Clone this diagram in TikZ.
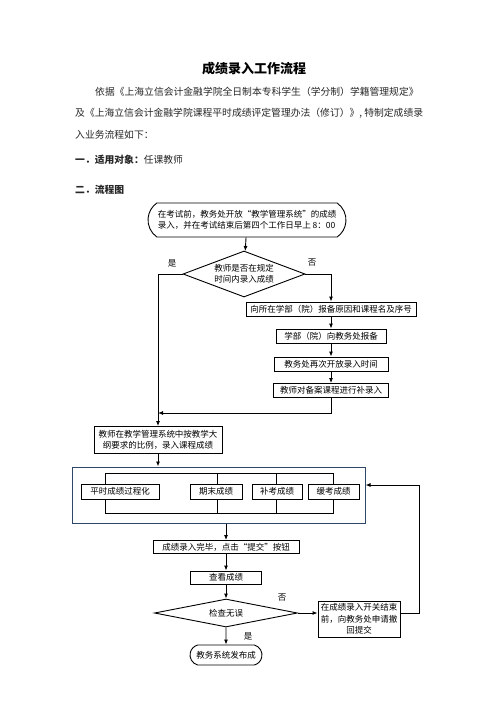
\documentclass[tikz,border=0pt]{standalone}
\usepackage{xcolor}
\usepackage{fontspec}
\setmainfont{Noto Sans CJK SC}
\usepackage{tikz}
\usetikzlibrary{arrows.meta,shapes.geometric,shapes.misc}
\definecolor{frameblue}{HTML}{2E4668}
\newcommand\chartfont{\fontsize{8.5pt}{11pt}\selectfont}
\newcommand\bodyfont{\fontsize{9.8pt}{12pt}\selectfont}

\begin{document}
\begin{tikzpicture}[
  x=1pt,y=-1pt,
  box/.style={draw,line width=0.9pt,inner sep=1pt,minimum height=14pt,align=center,font=\chartfont},
  term/.style={draw,line width=0.9pt,rounded rectangle,rounded rectangle arc length=110,inner xsep=1pt,font=\chartfont},
  ask/.style={draw,line width=0.9pt,diamond,inner sep=0pt,align=center,font=\chartfont},
  lbl/.style={font=\chartfont,inner sep=0pt},
  txt/.style={font=\bodyfont,text=black!85,anchor=west,inner sep=0pt},
  link/.style={line width=0.9pt},
  arr/.style={-{Latex[length=5pt,width=4pt]},line width=0.9pt}
]
\useasboundingbox (0,0) rectangle (496,702);

% heading and text
\node[font=\fontsize{13pt}{15pt}\selectfont\bfseries,inner sep=0pt] (title) at (254,69) {成绩录入工作流程};
\node[txt] (para1) at (95,92) {依据《上海立信会计金融学院全日制本专科学生（学分制）学籍管理规定》};
\node[txt] (para2) at (75,113) {及《上海立信会计金融学院课程平时成绩评定管理办法（修订）》, 特制定成绩录};
\node[txt] (para3) at (75,135) {入业务流程如下：};
\node[txt] (sec1) at (75,160) {\bfseries 一．适用对象：\mdseries 任课教师};
\node[txt] (sec2) at (75,190) {\bfseries 二．流程图};

% flow chart
\node[term,minimum width=200pt,minimum height=34pt,align=left] (open) at (247,220)
  {在考试前，教务处开放“教学管理系统”的成绩\\录入，并在考试结束后第四个工作日早上 8：00};
\node[ask,minimum width=122pt,minimum height=46pt,shape aspect=2.65] (intime) at (244,274)
  {教师是否在规定\\时间内录入成绩};
\node[box,minimum width=170pt] (report) at (331,309) {向所在学部（院）报备原因和课程名及序号};
\node[box,minimum width=110pt] (dept) at (331,336) {学部（院）向教务处报备};
\node[box,minimum width=114pt] (reopen) at (331,364) {教务处再次开放录入时间};
\node[box,minimum width=115pt] (supp) at (331,390.5) {教师对备案课程进行补录入};
\coordinate (join) at (158,413);
\node[box,minimum width=128pt,minimum height=27pt] (enter) at (158,440)
  {教师在教学管理系统中按教学大\\纲要求的比例，录入课程成绩};

\node[draw=frameblue,line width=1pt,minimum width=293pt,minimum height=56pt] (grp) at (218.5,495) {};
\node[box,minimum width=78pt,minimum height=15pt] (usual) at (120,491.5) {平时成绩过程化};
\node[box,minimum width=52pt,minimum height=15pt] (final) at (216,491.5) {期末成绩};
\node[box,minimum width=50pt,minimum height=15pt] (makeup) at (277,491.5) {补考成绩};
\node[box,minimum width=51pt,minimum height=15pt] (defer) at (333.5,491.5) {缓考成绩};
\draw[link] (105,484) -- (105,473) -- (333,473) -- (333,484);
\draw[link] (105,499) -- (105,513) -- (333,513) -- (333,499);
\foreach \x in {217,276} {
  \draw[link] (\x,473) -- (\x,484) (\x,499) -- (\x,513);
}

\node[box,minimum width=146pt,minimum height=13pt] (done) at (226,547) {成绩录入完毕，点击“提交”按钮};
\node[box,minimum width=71pt,minimum height=13pt] (view) at (226,577.5) {查看成绩};
\node[ask,minimum width=143pt,minimum height=28pt,shape aspect=5.1] (check) at (226,613) {检查无误};
\node[box,minimum width=82pt,minimum height=36pt,font=\fontsize{8.5pt}{11.5pt}\selectfont] (withdraw) at (359,619)
  {在成绩录入开关结束\\前，向教务处申请撤\\回提交};
\node[term,minimum width=74pt,minimum height=20pt,rounded rectangle arc length=150] (publish) at (226,655) {教务系统发布成};
\coordinate (back) at (419,485);

% labels
\node[lbl] (yes1) at (172,263) {是};
\node[lbl] (no1) at (312,263) {否};
\node[lbl] (no2) at (282,598) {否};
\node[lbl] (yes2) at (248,636) {是};

% connectors
\draw[arr] (open) -- (intime);
\draw[arr] (intime.west) -| (enter.north);
\draw[arr] (intime.east) -| (report.north);
\draw[arr] (report) -- (dept);
\draw[arr] (dept) -- (reopen);
\draw[arr] (reopen) -- (supp);
\draw[arr] (supp.south) |- (join);
\draw[arr] (enter.south) -- (enter.south |- grp.north);
\draw[arr] (done.north |- grp.south) -- (done.north);
\draw[arr] (done) -- (view);
\draw[arr] (view) -- (check);
\draw[arr] (check.east) -- (check.east -| withdraw.west);
\draw[arr] (check) -- (publish);
\draw[arr] (withdraw.east |- check.east) -| (back) -- (back -| grp.east);
\end{tikzpicture}
\end{document}
